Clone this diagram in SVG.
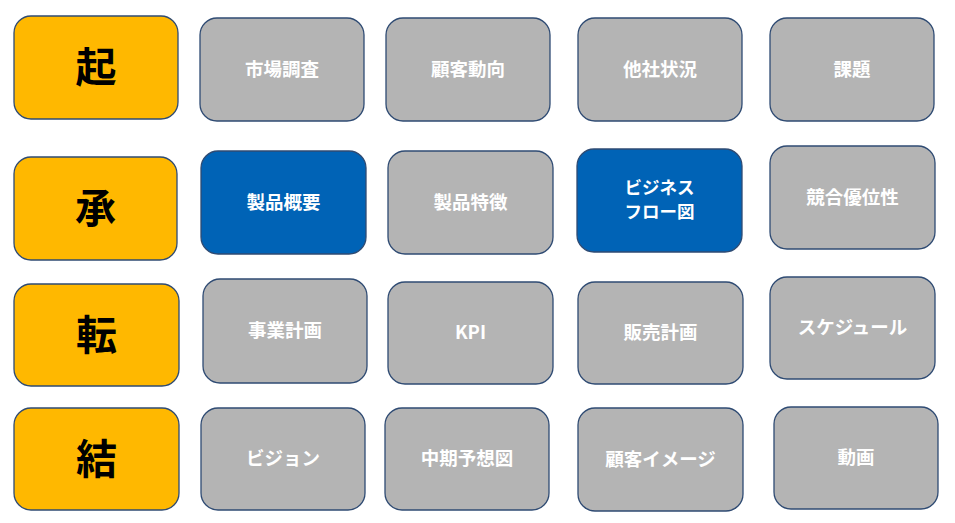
<svg xmlns="http://www.w3.org/2000/svg" width="955" height="523" viewBox="0 0 955 523">
<style>
.b{stroke:#2F4B73;stroke-width:1.3}
.y{fill:#FFB800}
.g{fill:#B4B4B4}
.u{fill:#0063B6}
.t{font-family:"Noto Sans CJK JP","Noto Sans",sans-serif;font-weight:bold;text-anchor:middle;dominant-baseline:central}
.k{font-size:41px;fill:#000}
.w{font-size:18.5px;fill:#fff}
.s{font-size:17.5px}
</style>
<rect width="955" height="523" fill="#fff"/>
<g id="n-ki"><rect class="b y" x="14" y="16" width="164" height="103" rx="17"/><text class="t k" x="96" y="64">起</text></g>
<g id="n-sho"><rect class="b y" x="14" y="157" width="163" height="103" rx="17"/><text class="t k" x="95.5" y="205">承</text></g>
<g id="n-ten"><rect class="b y" x="14" y="284" width="165" height="102" rx="17"/><text class="t k" x="96.5" y="332">転</text></g>
<g id="n-ketsu"><rect class="b y" x="14" y="408" width="165" height="102" rx="17"/><text class="t k" x="96.5" y="456">結</text></g>

<g id="n-1"><rect class="b g" x="200" y="18" width="164" height="103" rx="17"/><text class="t w" x="282" y="67.5">市場調査</text></g>
<g id="n-2"><rect class="b g" x="386" y="18" width="164" height="103" rx="17"/><text class="t w" x="468" y="67.5">顧客動向</text></g>
<g id="n-3"><rect class="b g" x="578" y="18" width="164" height="103" rx="17"/><text class="t w" x="660" y="67.5">他社状況</text></g>
<g id="n-4"><rect class="b g" x="770" y="18" width="164" height="103" rx="17"/><text class="t w" x="852" y="67.5">課題</text></g>

<g id="n-5"><rect class="b u" x="201" y="151" width="165" height="103" rx="17"/><text class="t w" x="283.5" y="200.5">製品概要</text></g>
<g id="n-6"><rect class="b g" x="388" y="151" width="165" height="103" rx="17"/><text class="t w" x="470.5" y="200.5">製品特徴</text></g>
<g id="n-7"><rect class="b u" x="577" y="149" width="165" height="103" rx="17"/><text class="t w s" x="659.5" y="186.5">ビジネス</text><text class="t w s" x="659.5" y="210.5">フロー図</text></g>
<g id="n-8"><rect class="b g" x="770" y="146" width="165" height="103" rx="17"/><text class="t w" x="852.5" y="195.5">競合優位性</text></g>

<g id="n-9"><rect class="b g" x="203" y="279" width="164" height="104" rx="17"/><text class="t w" x="285" y="329">事業計画</text></g>
<g id="n-10"><rect class="b g" x="388" y="282" width="165" height="102" rx="17"/><text class="t w" x="470.5" y="331">KPI</text></g>
<g id="n-11"><rect class="b g" x="578" y="282" width="165" height="102" rx="17"/><text class="t w" x="660.5" y="331">販売計画</text></g>
<g id="n-12"><rect class="b g" x="770" y="277" width="165" height="102" rx="17"/><text class="t w" x="852.5" y="326">スケジュール</text></g>

<g id="n-13"><rect class="b g" x="201" y="408" width="164" height="102" rx="17"/><text class="t w" x="283" y="457">ビジョン</text></g>
<g id="n-14"><rect class="b g" x="385" y="408" width="164" height="102" rx="17"/><text class="t w" x="467" y="457">中期予想図</text></g>
<g id="n-15"><rect class="b g" x="578" y="408" width="165" height="103" rx="17"/><text class="t w" x="660.5" y="457.5">顧客イメージ</text></g>
<g id="n-16"><rect class="b g" x="774" y="407" width="164" height="102" rx="17"/><text class="t w" x="856" y="456">動画</text></g>
<g id="connectors"></g>
</svg>
